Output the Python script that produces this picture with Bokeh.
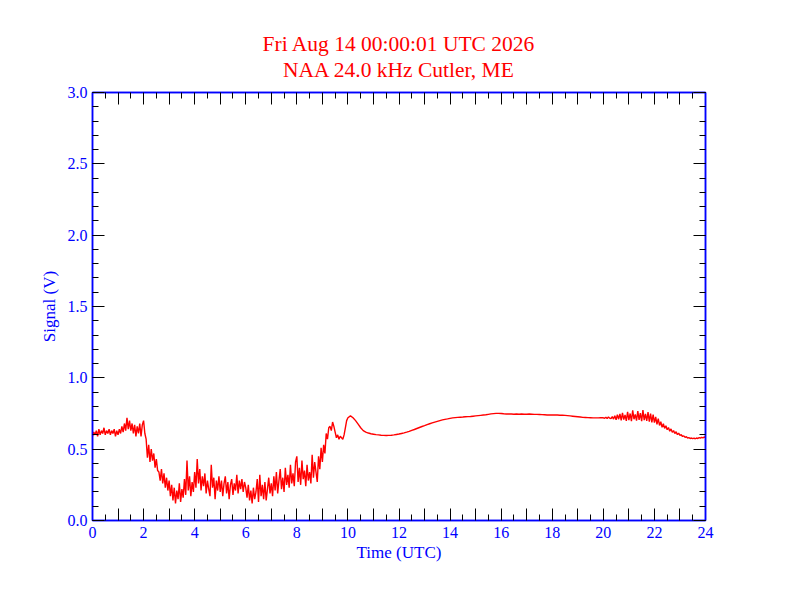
import numpy as np
from bokeh.plotting import figure
from bokeh.models import Range1d, LinearAxis, FixedTicker, Title
from bokeh.embed import file_html
from bokeh.resources import INLINE

title_line1 = "Fri Aug 14 00:00:01 UTC 2026"
title_line2 = "NAA 24.0 kHz Cutler, ME"
x_label = "Time (UTC)"
y_label = "Signal (V)"

x_major = list(range(0, 25))
x_minor = [h + 0.5 for h in range(0, 24)]
x_labels = {h: (str(h) if h % 2 == 0 else "") for h in x_major}
y_major = [0.0, 0.5, 1.0, 1.5, 2.0, 2.5, 3.0]
y_minor = [round(0.1 * i, 1) for i in range(0, 31)]
y_labels = {v: "%.1f" % v for v in y_major}

# segment A: 0.00 - 9.95 h, every 0.05 h
seg_a_start, seg_a_step = 0.0, 0.05
seg_a = [
    0.59, 0.62, 0.60, 0.63, 0.59, 0.64, 0.60, 0.63, 0.61, 0.65, 0.60, 0.63, 0.61, 0.64, 0.60, 0.63, 0.61, 0.64, 0.59, 0.63,
    0.60, 0.64, 0.61, 0.66, 0.62, 0.68, 0.63, 0.72, 0.64, 0.70, 0.63, 0.68, 0.61, 0.67, 0.59, 0.66, 0.61, 0.68, 0.59, 0.67,
    0.70, 0.61, 0.57, 0.44, 0.53, 0.41, 0.50, 0.42, 0.47, 0.37, 0.43, 0.35, 0.34, 0.28, 0.36, 0.26, 0.33, 0.23, 0.30, 0.21,
    0.28, 0.17, 0.25, 0.14, 0.23, 0.12, 0.21, 0.15, 0.26, 0.13, 0.22, 0.16, 0.29, 0.18, 0.42, 0.21, 0.31, 0.17, 0.27, 0.20,
    0.34, 0.23, 0.43, 0.26, 0.36, 0.21, 0.31, 0.24, 0.33, 0.19, 0.28, 0.22, 0.17, 0.39, 0.23, 0.30, 0.15, 0.28, 0.21, 0.31,
    0.20, 0.28, 0.17, 0.26, 0.31, 0.19, 0.27, 0.15, 0.25, 0.29, 0.18, 0.26, 0.21, 0.32, 0.19, 0.28, 0.22, 0.29, 0.20, 0.27,
    0.23, 0.16, 0.25, 0.14, 0.21, 0.12, 0.23, 0.15, 0.20, 0.29, 0.13, 0.32, 0.17, 0.25, 0.15, 0.27, 0.14, 0.22, 0.30, 0.19,
    0.26, 0.17, 0.31, 0.21, 0.34, 0.19, 0.28, 0.36, 0.22, 0.30, 0.20, 0.37, 0.25, 0.32, 0.23, 0.39, 0.26, 0.33, 0.24, 0.41,
    0.45, 0.27, 0.37, 0.25, 0.42, 0.29, 0.35, 0.24, 0.39, 0.28, 0.34, 0.26, 0.46, 0.30, 0.41, 0.34, 0.27, 0.45, 0.36, 0.51,
    0.41, 0.53, 0.47, 0.61, 0.57, 0.65, 0.66, 0.63, 0.69, 0.66, 0.62, 0.58, 0.60, 0.57, 0.59, 0.58, 0.57, 0.60, 0.65, 0.70,
]

# segment B: 10.0 - 19.9 h, every 0.1 h
seg_b_start, seg_b_step = 10.0, 0.1
seg_b = [
    0.720, 0.733, 0.720, 0.700, 0.675, 0.650, 0.630, 0.620, 0.613, 0.608,
    0.605, 0.602, 0.600, 0.598, 0.597, 0.596, 0.597, 0.598, 0.600, 0.603,
    0.606, 0.610, 0.614, 0.619, 0.625, 0.632, 0.638, 0.645, 0.652, 0.659,
    0.665, 0.672, 0.678, 0.684, 0.690, 0.695, 0.700, 0.705, 0.709, 0.712,
    0.716, 0.719, 0.721, 0.723, 0.724, 0.725, 0.727, 0.728, 0.729, 0.731,
    0.733, 0.735, 0.737, 0.739, 0.741, 0.744, 0.747, 0.749, 0.751, 0.751,
    0.750, 0.748, 0.747, 0.746, 0.746, 0.745, 0.746, 0.745, 0.746, 0.745,
    0.745, 0.746, 0.745, 0.744, 0.744, 0.743, 0.742, 0.741, 0.740, 0.740,
    0.739, 0.739, 0.739, 0.738, 0.738, 0.737, 0.735, 0.733, 0.731, 0.729,
    0.727, 0.725, 0.723, 0.722, 0.721, 0.720, 0.719, 0.719, 0.719, 0.720,
]

# segment C: 20.00 - 24.00 h, every 0.05 h
seg_c_start, seg_c_step = 20.0, 0.05
seg_c = [
    0.720, 0.716, 0.724, 0.715, 0.726, 0.717, 0.714, 0.728, 0.711, 0.735, 0.706, 0.742, 0.710, 0.747, 0.701, 0.754, 0.707, 0.740, 0.698, 0.762,
    0.704, 0.750, 0.697, 0.772, 0.710, 0.744, 0.700, 0.767, 0.706, 0.752, 0.696, 0.774, 0.703, 0.747, 0.698, 0.760, 0.693, 0.750, 0.688, 0.742,
    0.686, 0.727, 0.674, 0.714, 0.666, 0.692, 0.653, 0.678, 0.646, 0.664, 0.636, 0.652, 0.626, 0.642, 0.618, 0.630, 0.610, 0.622, 0.602, 0.612,
    0.597, 0.601, 0.589, 0.593, 0.583, 0.587, 0.578, 0.581, 0.575, 0.578, 0.574, 0.577, 0.573, 0.578, 0.575, 0.581, 0.577, 0.583, 0.579, 0.585,
    0.583,
]

t = np.concatenate([
    seg_a_start + seg_a_step * np.arange(len(seg_a)),
    seg_b_start + seg_b_step * np.arange(len(seg_b)),
    seg_c_start + seg_c_step * np.arange(len(seg_c)),
])
signal = np.array(seg_a + seg_b + seg_c)

BLUE = "#0000ff"
RED = "#ff0000"
FONT = "Liberation Serif"

p = figure(width=776, height=596, output_backend="svg", toolbar_location=None,
           x_range=Range1d(0, 24), y_range=Range1d(0, 3),
           x_axis_location=None, y_axis_location=None,
           min_border_left=92, min_border_right=71, min_border_top=92, min_border_bottom=76)
p.title.text = title_line1
p.title.align = "center"
p.title.text_color = RED
p.title.text_font = FONT
p.title.text_font_size = "21.5px"
p.title.text_font_style = "normal"
p.title.standoff = -23
p.grid.visible = False
p.outline_line_color = BLUE
p.outline_line_width = 1.5
p.background_fill_color = "white"
p.border_fill_color = "white"

xt = FixedTicker(ticks=x_major, minor_ticks=x_minor)
yt = FixedTicker(ticks=y_major, minor_ticks=y_minor)


def style_axis(ax, show_labels):
    ax.axis_line_color = BLUE
    ax.axis_line_width = 1.5
    ax.major_tick_line_color = "black"
    ax.minor_tick_line_color = "black"
    ax.major_tick_in = 12
    ax.major_tick_out = 0
    ax.minor_tick_in = 6
    ax.minor_tick_out = 0
    ax.major_label_text_font = FONT
    ax.major_label_text_color = BLUE
    ax.axis_label_text_font = FONT
    ax.axis_label_text_color = BLUE
    ax.axis_label_text_font_style = "normal"
    ax.axis_label_text_font_size = "17px"
    if show_labels:
        ax.major_label_text_font_size = "16px"
    else:
        ax.major_label_text_font_size = "0px"


# panels "above" are stacked from the frame outward: top axis, line 2, then title (line 1)
top = LinearAxis(ticker=xt, major_label_overrides={h: "" for h in x_major})
style_axis(top, False)
p.add_layout(top, "above")
p.add_layout(Title(text=title_line2, align="center", text_color=RED, text_font=FONT,
                   text_font_size="21.5px", text_font_style="normal", standoff=22), "above")

bottom = LinearAxis(ticker=xt, axis_label=x_label, major_label_overrides=x_labels)
style_axis(bottom, True)
bottom.major_label_standoff = 6
bottom.axis_label_standoff = 2
p.add_layout(bottom, "below")

left = LinearAxis(ticker=yt, axis_label=y_label, major_label_overrides=y_labels)
style_axis(left, True)
left.major_label_standoff = 5
left.axis_label_standoff = 6
p.add_layout(left, "left")

right = LinearAxis(ticker=yt, major_label_overrides={v: "" for v in y_major})
style_axis(right, False)
p.add_layout(right, "right")

p.line(t, signal, line_color=RED, line_width=1.4)

open("out.html", "w").write(file_html(p, INLINE))
